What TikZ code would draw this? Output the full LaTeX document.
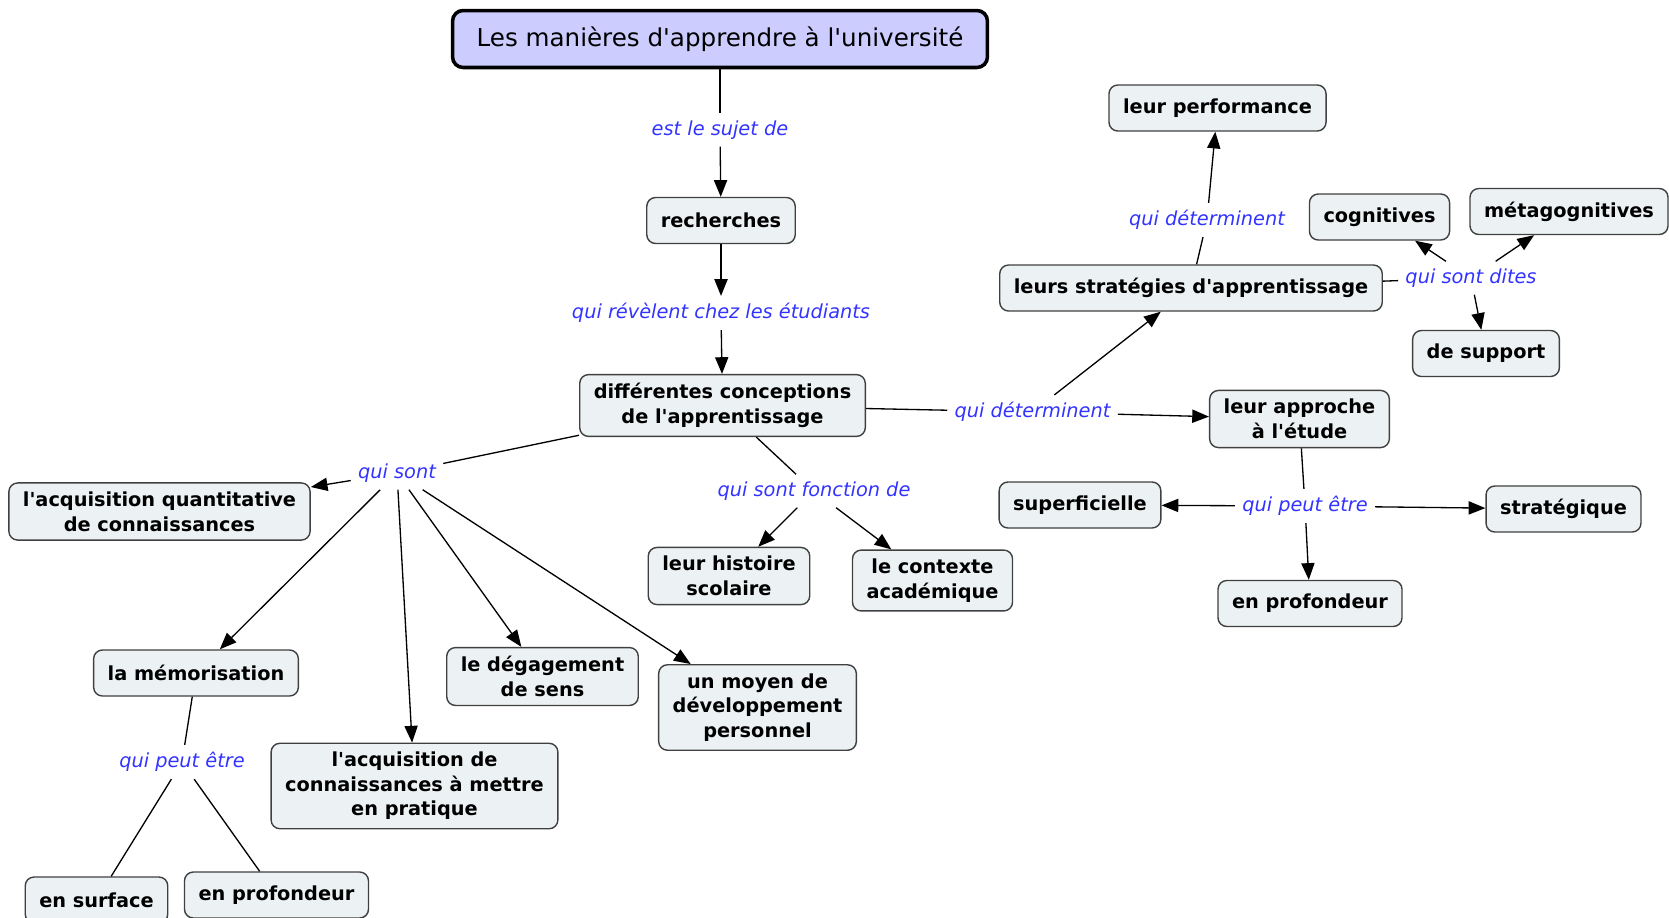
\documentclass[tikz,border=0pt]{standalone}
\usepackage{fontspec}
\setmainfont{DejaVu Sans}[Ligatures=TeXOff]
\usetikzlibrary{arrows.meta}
\definecolor{conceptfill}{HTML}{ECF2F3}
\definecolor{rootfill}{HTML}{CCCCFF}
\definecolor{linkblue}{HTML}{3333FF}
\tikzstyle{Root} = [draw=black, fill=rootfill, rounded corners=6pt, line width=2pt, font=\fontsize{14}{16}\selectfont, minimum width=10.7cm, minimum height=1.14cm]
\tikzstyle{Concept} = [draw=black!75, fill=conceptfill, rounded corners=5pt, line width=0.8pt, align=center, font=\bfseries\fontsize{11}{14}\selectfont, inner xsep=8pt, inner ysep=5pt, minimum height=0.92cm]
\tikzstyle{Link} = [text=linkblue, font=\itshape\fontsize{11}{14}\selectfont, inner sep=4pt]
\tikzstyle{Arrow} = [draw, -{Triangle[length=9.5pt,width=7.5pt]}, line width=0.75pt]
\tikzstyle{Line} = [draw, line width=0.75pt]

\begin{document}
\begin{tikzpicture}[x=0.02cm, y=-0.02cm]
    \useasboundingbox (0,0) rectangle (1669,917);
    \clip (0,0) rectangle (1669,917);
    % concepts
    \node[Root]    (root)         at (720,39)     {Les manières d'apprendre à l'université};
    \node[Concept] (recherches)   at (721,220.5)  {recherches};
    \node[Concept] (conceptions)  at (722.5,405.5){différentes conceptions\\de l'apprentissage};
    \node[Concept] (quantitative) at (159.5,511.5){l'acquisition quantitative\\de connaissances};
    \node[Concept] (memorisation) at (196,673)    {la mémorisation};
    \node[Concept] (pratique)     at (414.5,786)  {l'acquisition de\\connaissances à mettre\\en pratique};
    \node[Concept] (sens)         at (542.5,676.5){le dégagement\\de sens};
    \node[Concept] (moyen)        at (757.5,707.5){un moyen de\\développement\\personnel};
    \node[Concept] (surface)      at (96.5,900)   {en surface};
    \node[Concept] (profondeur_a) at (276.5,895)  {en profondeur};
    \node[Concept] (histoire)     at (729,576)    {leur histoire\\scolaire};
    \node[Concept] (contexte)     at (932.5,580.5){le contexte\\académique};
    \node[Concept] (approche)     at (1299.5,419) {leur approche\\à l'étude};
    \node[Concept] (strategies)   at (1191,288)   {leurs stratégies d'apprentissage};
    \node[Concept] (performance)  at (1217.5,108) {leur performance};
    \node[Concept] (cognitives)   at (1379.5,217) {cognitives};
    \node[Concept] (metacog)      at (1569,211.5) {métagognitives};
    \node[Concept] (support)      at (1486,353.5) {de support};
    \node[Concept] (superficielle) at (1080,505)  {superficielle};
    \node[Concept] (strategique)  at (1563.5,509) {stratégique};
    \node[Concept] (profondeur_b) at (1310,603.5) {en profondeur};
    % linking words
    \node[Link] (l_sujet)        at (720,130)    {est le sujet de};
    \node[Link] (l_revelent)     at (721,313)    {qui révèlent chez les étudiants};
    \node[Link] (l_sont)         at (397,473)    {qui sont};
    \node[Link] (l_peut_a)       at (182,762)    {qui peut être};
    \node[Link] (l_fonction)     at (814,491)    {qui sont fonction de};
    \node[Link] (l_determinent)  at (1032.5,412) {qui déterminent};
    \node[Link] (l_performance)  at (1207,220)   {qui déterminent};
    \node[Link] (l_dites)        at (1471,278)   {qui sont dites};
    \node[Link] (l_peut_b)       at (1305,506)   {qui peut être};
    % connectors
    \draw[Line]  (root)          -- (l_sujet);
    \draw[Arrow] (l_sujet)       -- (recherches);
    \draw[Arrow] (recherches)    -- (l_revelent);
    \draw[Arrow] (l_revelent)    -- (conceptions);
    \draw[Line]  (conceptions)   -- (l_sont);
    \draw[Arrow] (l_sont)        -- (quantitative);
    \draw[Arrow] (l_sont)        -- (memorisation);
    \draw[Arrow] (l_sont)        -- (pratique);
    \draw[Arrow] (l_sont)        -- (sens);
    \draw[Arrow] (l_sont)        -- (moyen);
    \draw[Line]  (memorisation)  -- (l_peut_a);
    \draw[Line]  (l_peut_a)      -- (surface);
    \draw[Line]  (l_peut_a)      -- (profondeur_a);
    \draw[Line]  (conceptions)   -- (l_fonction);
    \draw[Arrow] (l_fonction)    -- (histoire);
    \draw[Arrow] (l_fonction)    -- (contexte);
    \draw[Line]  (conceptions)   -- (l_determinent);
    \draw[Arrow] (l_determinent) -- (approche);
    \draw[Arrow] (l_determinent) -- (strategies);
    \draw[Line]  (strategies)    -- (l_performance);
    \draw[Arrow] (l_performance) -- (performance);
    \draw[Line]  (strategies)    -- (l_dites);
    \draw[Arrow] (l_dites)       -- (cognitives);
    \draw[Arrow] (l_dites)       -- (metacog);
    \draw[Arrow] (l_dites)       -- (support);
    \draw[Line]  (approche)      -- (l_peut_b);
    \draw[Arrow] (l_peut_b)      -- (superficielle);
    \draw[Arrow] (l_peut_b)      -- (strategique);
    \draw[Arrow] (l_peut_b)      -- (profondeur_b);
\end{tikzpicture}
\end{document}
